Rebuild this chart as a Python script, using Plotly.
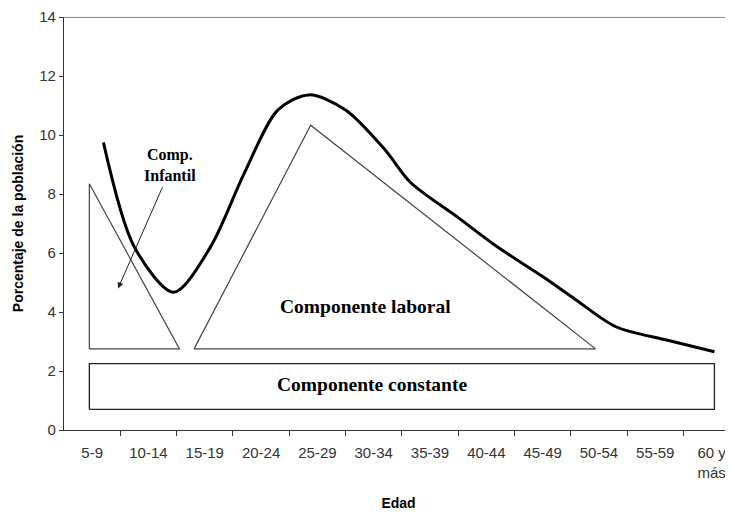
import plotly.graph_objects as go

# Tick labels (age groups)
age_groups = ["5-9", "10-14", "15-19", "20-24", "25-29", "30-34", "35-39",
              "40-44", "45-49", "50-54", "55-59", "60 y<br>más"]

# Total migration curve (category position, percentage)
curve_x = [0.2, 0.75, 1.45, 2.1, 2.7, 3.3, 3.85, 4.5, 5.2, 5.65, 6.5, 7.2, 8.0, 8.6, 9.3, 10.2, 11.05]
curve_y = [9.75, 6.2, 4.67, 6.2, 8.7, 10.85, 11.36, 10.85, 9.5, 8.4, 7.2, 6.2, 5.2, 4.4, 3.5, 3.05, 2.65]

# Child component (triangle)
infantil_x = [-0.05, -0.05, 1.55, -0.05]
infantil_y = [2.75, 8.35, 2.75, 2.75]

# Labour component (triangle)
laboral_x = [1.81, 3.88, 8.94, 1.81]
laboral_y = [2.75, 10.33, 2.75, 2.75]

# Constant component (rectangle)
constante_x = [-0.05, 11.05, 11.05, -0.05, -0.05]
constante_y = [0.7, 0.7, 2.25, 2.25, 0.7]

fig = go.Figure()
fig.add_trace(go.Scatter(x=constante_x, y=constante_y, mode="lines",
                         line=dict(color="#222222", width=1.3), hoverinfo="skip"))
fig.add_trace(go.Scatter(x=infantil_x, y=infantil_y, mode="lines",
                         line=dict(color="#444444", width=1.2), hoverinfo="skip"))
fig.add_trace(go.Scatter(x=laboral_x, y=laboral_y, mode="lines",
                         line=dict(color="#444444", width=1.2), hoverinfo="skip"))
fig.add_trace(go.Scatter(x=curve_x, y=curve_y, mode="lines",
                         line=dict(color="black", width=3, shape="spline", smoothing=0.85),
                         hoverinfo="skip"))

serif = "Liberation Serif, Times New Roman, serif"
fig.add_annotation(x=4.97, y=1.55, text="<b>Componente constante</b>", showarrow=False,
                   font=dict(family=serif, size=19.5, color="black"))
fig.add_annotation(x=4.85, y=4.17, text="<b>Componente laboral</b>", showarrow=False,
                   font=dict(family=serif, size=19.5, color="black"))
fig.add_annotation(x=1.38, y=8.98, text="<b>Comp.<br>Infantil</b>", showarrow=False,
                   font=dict(family=serif, size=16, color="black"))
fig.add_annotation(x=0.46, y=4.8, ax=1.26, ay=8.28, axref="x", ayref="y", text="",
                   showarrow=True, arrowhead=2, arrowsize=1.2, arrowwidth=1, arrowcolor="#222222")

# top border line of plot area
fig.add_shape(type="line", xref="paper", yref="y", x0=0, x1=1, y0=14, y1=14,
              line=dict(color="#8a8a8a", width=2))

sans = "Liberation Sans, Arial, sans-serif"
fig.update_layout(
    width=725, height=509,
    margin=dict(l=56, r=0, t=9, b=87, autoexpand=False),
    paper_bgcolor="white", plot_bgcolor="white",
    showlegend=False,
    font=dict(family=sans, color="#333333"),
    xaxis=dict(
        range=[-0.5, 11.38], automargin=False,
        tickmode="array", tickvals=list(range(len(age_groups))), ticktext=age_groups,
        ticks="", showgrid=False, zeroline=False,
        showline=True, linecolor="#333333", linewidth=1.3,
        tickfont=dict(family=sans, size=15, color="#333333"),
        ticklabelstandoff=9,
        minor=dict(ticks="outside", tickmode="array",
                   tickvals=[i + 0.5 for i in range(11)],
                   ticklen=5, tickcolor="#333333", tickwidth=1, showgrid=False),
        title=dict(text="<b>Edad</b>", font=dict(family=sans, size=14, color="black"), standoff=18),
    ),
    yaxis=dict(
        range=[0, 14], automargin=False, tickmode="array", tickvals=list(range(0, 15, 2)),
        ticks="outside", ticklen=4, tickcolor="#333333",
        showgrid=False, zeroline=False,
        showline=True, linecolor="#333333", linewidth=1.3,
        tickfont=dict(family=sans, size=15, color="#333333"),
        title=dict(text="<b>Porcentaje de la población</b>",
                   font=dict(family=sans, size=14, color="black"), standoff=12),
    ),
)

fig.write_html("out.html")
